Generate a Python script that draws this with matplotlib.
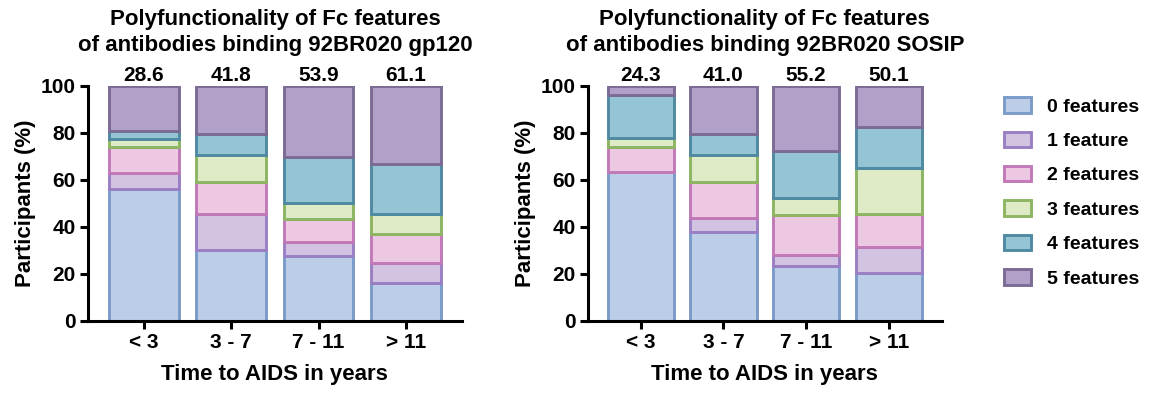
import numpy as np
import matplotlib.pyplot as plt
from matplotlib.patches import Patch

plt.rcParams['font.family'] = ['Liberation Sans', 'DejaVu Sans']
plt.rcParams['font.weight'] = 'bold'

groups = ['< 3', '3 - 7', '7 - 11', '> 11']
feature_labels = ['0 features', '1 feature', '2 features', '3 features', '4 features', '5 features']

# percent of participants per number of features, one row per time group
gp120 = [
    [56.0, 7.1, 11.0, 3.4, 3.4, 19.1],
    [30.2, 15.4, 13.4, 11.7, 8.8, 20.5],
    [27.6, 6.2, 9.5, 7.1, 19.4, 30.2],
    [16.0, 8.5, 12.7, 8.4, 21.1, 33.3],
]
sosip = [
    [63.6, 0.0, 10.6, 3.8, 18.0, 4.0],
    [38.0, 6.0, 15.3, 11.5, 8.9, 20.3],
    [23.6, 4.3, 17.3, 7.2, 19.8, 27.8],
    [20.4, 11.0, 14.2, 19.7, 17.3, 17.4],
]
gp120_scores = ['28.6', '41.8', '53.9', '61.1']
sosip_scores = ['24.3', '41.0', '55.2', '50.1']

fills = ['#bccde8', '#d2c3e3', '#edc8e3', '#dfeac6', '#95c5d4', '#b1a1c9']
edges = ['#7b9bc9', '#9b7fc4', '#c279b7', '#8db562', '#4f8aa2', '#7b6b95']

fig = plt.figure(figsize=(11.63, 3.98), dpi=100)
ax1 = fig.add_axes([0.0757, 0.1935, 0.3213, 0.5905])
ax2 = fig.add_axes([0.5056, 0.1935, 0.3040, 0.5905])

def draw(ax, data, scores, title):
    data = np.array(data)
    x = np.arange(len(groups))
    bottom = np.zeros(len(groups))
    for k in range(data.shape[1]):
        ax.bar(x, data[:, k], 0.8, bottom=bottom, color=fills[k],
               edgecolor=edges[k], linewidth=2.1)
        bottom += data[:, k]
    for xi, s in zip(x, scores):
        ax.text(xi, 100.3, s, ha='center', va='bottom', fontsize=15,
                fontweight='bold')
    ax.set_xlim(-0.64, 3.64)
    ax.set_ylim(0, 100)
    ax.set_yticks([0, 20, 40, 60, 80, 100])
    ax.set_xticks(x)
    ax.set_xticklabels(groups)
    ax.tick_params(labelsize=15, width=2.2, length=6, pad=3)
    for lab in ax.get_xticklabels() + ax.get_yticklabels():
        lab.set_fontweight('bold')
    for side in ['top', 'right']:
        ax.spines[side].set_visible(False)
    for side in ['left', 'bottom']:
        ax.spines[side].set_linewidth(2.2)
    ax.set_xlabel('Time to AIDS in years', fontsize=16, fontweight='bold', labelpad=8)
    ax.set_title(title, fontsize=16, fontweight='bold', pad=25, linespacing=1.3)

draw(ax1, gp120, gp120_scores,
     'Polyfunctionality of Fc features\nof antibodies binding 92BR020 gp120')
draw(ax2, sosip, sosip_scores,
     'Polyfunctionality of Fc features\nof antibodies binding 92BR020 SOSIP')
ax1.set_ylabel('Participants (%)', fontsize=16, fontweight='bold', labelpad=3)
ax2.set_ylabel('Participants (%)', fontsize=16, fontweight='bold', labelpad=3)

handles = [Patch(facecolor=f, edgecolor=e, linewidth=2.1) for f, e in zip(fills, edges)]
fig.legend(handles, feature_labels, loc='upper left', bbox_to_anchor=(0.848, 0.80),
           frameon=False, labelspacing=0.82, handlelength=1.4,
           handleheight=0.85, handletextpad=0.8, prop={'weight': 'bold', 'size': 14})

fig.savefig('out.png', dpi=100)
